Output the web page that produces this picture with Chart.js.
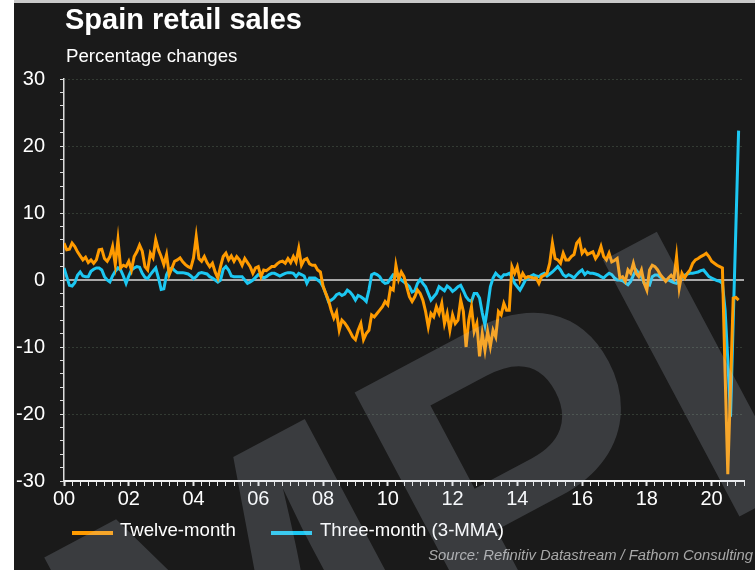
<!DOCTYPE html>
<html>
<head>
<meta charset="utf-8">
<script src="https://cdn.jsdelivr.net/npm/chart.js@4.4.1/dist/chart.umd.min.js"></script>
<style>
  html, body { margin: 0; padding: 0; background: #fff; }
  #wrap { width: 755px; height: 570px; }
</style>
</head>
<body>
<div id="wrap"><canvas id="salesChart" width="755" height="570"></canvas></div>
<script>
// Monthly data, starting January 2000
const START_YEAR = 2000;

// Twelve-month % change
const twelveMonth = [
  5.5, 4.5, 4.6, 5.5, 5.0, 4.2, 3.6, 3.0, 3.4, 2.6,
  3.0, 2.5, 3.0, 4.5, 4.6, 3.2, 2.8, 3.5, 5.0, 2.3,
  6.0, 1.8, 2.2, 2.0, 2.8, 1.5, 3.5, 4.2, 5.2, 4.3,
  2.0, 1.5, 4.0, 3.3, 6.0, 4.5, 3.5, 2.3, 3.8, 0.8,
  1.8, 2.8, 3.0, 3.3, 2.7, 2.3, 2.0, 1.8, 3.3, 6.5,
  3.2, 2.8, 3.5, 2.6, 2.0, 2.5, 1.2, 0.3, 2.0, 3.5,
  4.0, 3.0, 3.6, 2.8, 3.5, 3.0, 2.2, 3.2, 2.6, 2.0,
  1.0, 1.8, 2.0, 0.5, 1.5, 1.4, 1.7, 2.0, 2.0, 2.4,
  2.7, 2.8, 2.5, 3.2, 2.6, 3.5, 2.7, 4.7, 2.2, 3.0,
  3.2, 2.4, 2.2, 2.2, 1.5, 1.2, -0.9, -2.0, -3.0, -4.5,
  -5.7, -4.8, -7.5, -6.0, -6.4, -7.0, -7.7, -8.5, -8.9, -7.5,
  -6.5, -8.9, -8.0, -7.5, -5.2, -5.5, -5.0, -4.5, -4.0, -3.2,
  -3.7, -1.2, -1.5, 2.2, 0.1, 1.2, 0.5, -1.0, -2.5, -3.2,
  -2.5, -1.5, -2.0, -3.0, -4.7, -7.0, -5.0, -5.5, -4.0, -5.0,
  -3.5, -6.5, -5.0, -7.5, -5.2, -6.5, -6.0, -3.0, -4.7, -10.0,
  -6.0, -4.0, -7.7, -6.5, -11.4, -8.0, -10.5, -7.7, -9.9, -7.5,
  -8.5, -4.7, -5.2, -3.5, -4.5, -4.5, 2.0, 1.0, 2.0, 0.0,
  1.0, 0.3, 0.5, 0.4, 0.3, 0.3, -0.5, 0.5, 0.7, 1.0,
  2.5, 5.5, 3.2, 3.0, 2.5, 4.0, 3.0, 3.0, 3.5, 3.8,
  5.5, 6.0, 4.0, 4.5, 3.8, 4.0, 4.2, 3.2, 3.8, 5.0,
  3.5, 3.0, 4.0, 2.7, 2.9, 3.2, 0.3, 0.5, -0.2, 1.5,
  1.0, 2.5, 1.0, 0.5, 1.5, -0.5, -1.5, 1.5, 2.2, 2.0,
  1.5, 0.8, 0.3, -0.2, 0.3, 0.7, 0.2, 3.5, -1.2, 1.0,
  0.3, 1.0, 1.5, 2.5, 3.0, 3.2, 3.5, 3.7, 4.0, 3.5,
  2.8, 2.5, 2.2, 2.0, 1.8, -14.0, -29.0, -16.0, -2.7, -2.6, -3.0
];

// Three-month (3-MMA) % change
const threeMonth = [
  1.8, 0.5, -0.8, -0.9, -0.4, 0.7, 1.2, 0.6, 0.5, 0.5,
  1.3, 1.6, 1.8, 1.8, 1.5, 0.5, 0.0, -0.3, 0.6, 1.3,
  1.8, 1.5, 0.6, -0.5, 0.6, 1.5, 1.8, 2.0, 1.9, 1.0,
  0.4, 0.2, 0.8, 1.3, 1.8, 0.3, -1.4, -1.3, 0.8, 1.6,
  1.8, 1.4, 1.1, 1.1, 1.1, 1.0, 0.9, 0.6, 0.2, 0.5,
  1.0, 1.1, 1.0, 0.9, 0.5, 0.3, 0.0, -0.3, 0.0, 1.6,
  2.0, 1.5, 0.6, 0.5, 0.5, 0.5, 0.5, 0.0, -0.5, -0.3,
  0.0, 0.4, 0.8, 0.6, 0.3, 0.5, 0.8, 1.0, 1.0, 0.8,
  0.6, 0.8, 1.0, 1.1, 1.1, 1.0, 0.5, 1.0, 0.8, 0.6,
  -0.5, 0.3, 0.3, 0.3, 0.0, -0.3, -1.0, -2.0, -3.2, -3.0,
  -2.7, -2.2, -2.0, -2.3, -2.1, -1.5, -1.8, -2.3, -3.0, -2.3,
  -2.5, -2.8, -3.2, -1.5, 0.8, 1.0, 0.8, 0.5, -0.2, -0.5,
  -0.4, 0.2, 0.8, 0.7, 0.5, 0.0, -0.3, -0.6, -1.0, -1.8,
  -1.6, -0.5, 0.1, -0.5, -1.0, -2.0, -3.0, -2.5, -2.0, -1.0,
  -1.3, -1.6, -0.9, -1.2, -1.7, -1.4, -1.0, -0.8, -1.6, -2.5,
  -3.0, -3.2, -2.0, -2.0, -2.7, -4.9, -6.7, -4.0, -1.0, 0.3,
  1.0, 0.6, 0.3, 0.8, 0.8, 1.0, 0.5, -0.5, -1.0, -1.5,
  -0.8, 0.0, 0.3, 0.6, 0.8, 0.6, 0.5, 0.8, 1.0, 0.6,
  0.9, 1.2, 1.6, 2.0, 1.5, 0.8, 0.5, 0.8, 0.6, 0.3,
  0.8, 1.2, 1.5, 0.8, 1.2, 1.0, 1.0, 0.9, 0.75, 0.5,
  0.3, 0.7, 1.0, 0.8, 0.3, 0.0, 0.0, -0.1, -0.4, -0.7,
  -0.2, 0.7, 1.5, 1.0, 0.5, -0.5, -0.6, -0.75, 0.5, 0.75,
  0.75, 0.4, 0.2, 0.0, 0.0, -0.2, -0.4, -0.5, 0.0, 0.3,
  0.7, 0.9, 1.0, 1.0, 1.1, 1.2, 1.4, 1.5, 1.0, 0.5,
  0.3, 0.1, -0.1, -0.2, -0.5, -4.5, -12.0, -20.4, -6.2, 8.0, 22.3
];

const yTickValues = [30, 20, 10, 0, -10, -20, -30];
const seriesNames = ['Twelve-month', 'Three-month (3-MMA)'];
const seriesColors = ['#ff9b00', '#1cc7f2'];

const FONT = "'Liberation Sans', Arial, sans-serif";

function toPoints(values) {
  return values.map((v, i) => ({ x: START_YEAR + i / 12, y: v }));
}

// Background, title, legend, source, watermark
const decorPlugin = {
  id: 'decor',
  beforeDraw(chart) {
    const { ctx } = chart;
    ctx.save();
    ctx.fillStyle = '#ffffff';
    ctx.fillRect(0, 0, 755, 570);
    ctx.fillStyle = '#c9c9c9';
    ctx.fillRect(14, 0, 741, 3);
    ctx.fillStyle = '#1a1a1a';
    ctx.fillRect(14, 3, 741, 567);
    ctx.restore();
  },
  beforeDatasetsDraw(chart) {
    const { ctx, chartArea } = chart;
    const y = chart.scales.y;
    ctx.save();
    // dotted grid lines
    ctx.strokeStyle = 'rgba(90,110,90,0.4)';
    ctx.lineWidth = 1;
    ctx.setLineDash([2, 2]);
    yTickValues.forEach(v => {
      if (v === 0 || v === -30) return;
      const py = Math.round(y.getPixelForValue(v)) + 0.5;
      ctx.beginPath();
      ctx.moveTo(chartArea.left, py);
      ctx.lineTo(chartArea.right, py);
      ctx.stroke();
    });
    // zero line
    ctx.setLineDash([]);
    ctx.strokeStyle = '#a9a9a9';
    ctx.lineWidth = 2;
    const p0 = y.getPixelForValue(0);
    ctx.beginPath();
    ctx.moveTo(chartArea.left, p0);
    ctx.lineTo(chartArea.right, p0);
    ctx.stroke();
    ctx.restore();
  },
  afterDraw(chart) {
    const { ctx } = chart;
    ctx.save();
    ctx.fillStyle = '#ffffff';
    ctx.textAlign = 'left';
    ctx.textBaseline = 'alphabetic';
    ctx.font = 'bold 29px ' + FONT;
    ctx.fillText('Spain retail sales', 65, 29);
    ctx.font = '18.7px ' + FONT;
    ctx.fillText('Percentage changes', 66, 62);

    // legend
    const legendX = [[72, 120], [271, 320]];
    ctx.font = '18.6px ' + FONT;
    ctx.textBaseline = 'middle';
    seriesNames.forEach((name, i) => {
      ctx.fillStyle = seriesColors[i];
      ctx.fillRect(legendX[i][0], 531, 41, 4);
      ctx.fillStyle = '#ffffff';
      ctx.fillText(name, legendX[i][1], 531);
    });

    // source
    ctx.font = 'italic 14.8px ' + FONT;
    ctx.fillStyle = '#a8a8a8';
    ctx.textAlign = 'right';
    ctx.fillText('Source: Refinitiv Datastream / Fathom Consulting', 753, 556);

    // watermark overlay
    ctx.beginPath();
    ctx.rect(14, 3, 741, 567);
    ctx.clip();
    ctx.translate(466, 662);
    ctx.rotate(-28 * Math.PI / 180);
    ctx.font = 'bold 422px ' + FONT;
    ctx.textAlign = 'left';
    ctx.textBaseline = 'alphabetic';
    ctx.fillStyle = 'rgba(205,218,232,0.18)';
    ctx.fillText('SAMPLE', -ctx.measureText('SAM').width, 0);
    ctx.restore();
  }
};

const isMajorYear = v => Math.abs(v - Math.round(v)) < 1e-6 && Math.round(v) % 2 === 0;

new Chart(document.getElementById('salesChart'), {
  type: 'line',
  data: {
    datasets: [
      {
        label: seriesNames[0],
        data: toPoints(twelveMonth),
        borderColor: seriesColors[0],
        borderWidth: 3,
        pointRadius: 0,
        tension: 0,
        fill: false
      },
      {
        label: seriesNames[1],
        data: toPoints(threeMonth),
        borderColor: seriesColors[1],
        borderWidth: 3,
        pointRadius: 0,
        tension: 0,
        fill: false
      }
    ]
  },
  plugins: [decorPlugin],
  options: {
    responsive: false,
    animation: false,
    layout: { padding: { left: 0, top: 79, right: 11, bottom: 0 } },
    plugins: {
      legend: { display: false },
      tooltip: { enabled: false }
    },
    scales: {
      x: {
        type: 'linear',
        min: 2000,
        max: 2021,
        afterFit(scale) { scale.height = 89; },
        ticks: {
          stepSize: 0.25,
          autoSkip: false,
          maxRotation: 0,
          padding: 1,
          color: '#ffffff',
          font: { size: 20, family: FONT },
          callback: v => isMajorYear(v) ? String(Math.round(v) % 100).padStart(2, '0') : ''
        },
        grid: {
          drawOnChartArea: false,
          tickLength: 5,
          tickColor: '#e8e8e8',
          tickWidth: c => (c.tick && isMajorYear(c.tick.value)) ? 2 : 1
        },
        border: { color: '#f0f0f0', width: 2 }
      },
      y: {
        min: -30,
        max: 30,
        afterFit(scale) { scale.width = 64; },
        ticks: {
          stepSize: 2,
          autoSkip: false,
          padding: 15,
          color: '#ffffff',
          font: { size: 20, family: FONT },
          callback: v => (Math.round(v) % 10 === 0) ? String(Math.round(v)) : ''
        },
        grid: {
          drawOnChartArea: false,
          tickLength: 4,
          tickColor: '#dddddd'
        },
        border: { color: '#dddddd', width: 1.5 }
      }
    }
  }
});
</script>
</body>
</html>
